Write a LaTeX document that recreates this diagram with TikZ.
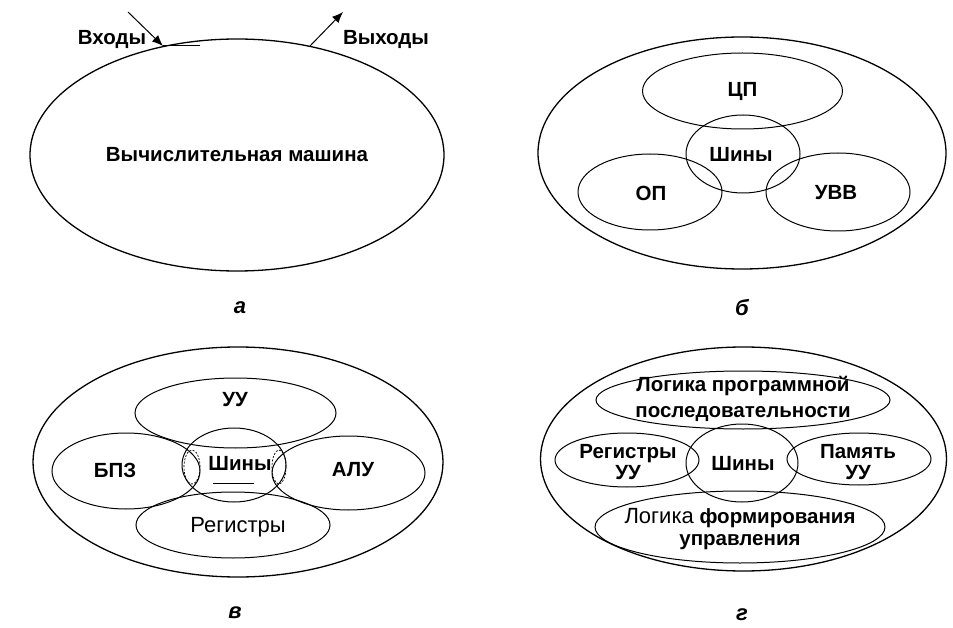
\documentclass[tikz,border=0pt]{standalone}
\usepackage{fontspec}
\setmainfont{Liberation Sans}
\usetikzlibrary{shapes.geometric,arrows.meta}

\tikzset{
  oval/.style={draw, ellipse, inner sep=0pt, line width=1pt},
  bigoval/.style={oval, line width=1.3pt},
  lens/.style={draw, ellipse, inner sep=0pt, line width=0.7pt, dash pattern=on 2pt off 1.5pt},
  lbl/.style={font=\fontsize{20.5}{26}\selectfont\bfseries, align=center, inner sep=0pt},
  lbltight/.style={lbl, font=\fontsize{20.5}{21}\selectfont\bfseries},
  lblreg/.style={font=\fontsize{22}{26}\selectfont, inner sep=0pt},
  panel/.style={font=\fontsize{22}{26}\selectfont\bfseries\itshape, inner sep=0pt},
  io/.style={line width=1pt, -{Latex[length=11pt,width=9pt]}}
}

\begin{document}
\begin{tikzpicture}[x=1pt, y=-1pt]
    \useasboundingbox (0,0) rectangle (953,628);

    % panel a: the machine as a whole
    \node[bigoval, minimum width=414, minimum height=232] (machine) at (237,155) {};
    \node[lbl] (machine-t) at (machine) {Вычислительная машина};
    \node[lbl] (inputs) at (112,39) {Входы};
    \node[lbl] (outputs) at (386,39) {Выходы};
    \coordinate (in-tail) at (128,12);
    \coordinate (in-head) at (163,46);
    \coordinate (in-tick) at (200,46);
    \coordinate (out-tail) at (310,46);
    \coordinate (out-head) at (343,12);
    \draw[io] (in-tail) -- (in-head);
    \draw[line width=1pt] (in-head) -- (in-tick);
    \draw[io] (out-tail) -- (out-head);
    \node[panel] (cap-a) at (240,308) {а};

    % panel b: cpu, memory, i/o around the buses
    \node[bigoval, minimum width=408, minimum height=232] (comp) at (742,153) {};
    \node[oval, minimum width=200, minimum height=76] (cpu) at (742.5,91) {};
    \node[oval, minimum width=114, minimum height=78] (bus) at (743,154) {};
    \node[oval, minimum width=144, minimum height=76] (ram) at (650,192) {};
    \node[oval, minimum width=144, minimum height=78] (iodev) at (838,192) {};
    \node[lbl] (cpu-t) at (cpu) {ЦП};
    \node[lbl] (bus-t) at (741,154) {Шины};
    \node[lbl] (ram-t) at (651,193) {ОП};
    \node[lbl] (iodev-t) at (836,193) {УВВ};
    \node[panel] (cap-b) at (742,308) {б};

    % panel c: inside the cpu
    \node[bigoval, minimum width=410, minimum height=230] (proc) at (238,462) {};
    \node[oval, minimum width=201, minimum height=70] (cu) at (235.5,413) {};
    \node[oval, minimum width=148, minimum height=76] (bpz) at (126,471) {};
    \node[oval, minimum width=153, minimum height=74] (alu) at (348.5,473) {};
    \node[oval, minimum width=194, minimum height=66] (regs) at (233,525) {};
    \node[oval, minimum width=104, minimum height=74] (bus2) at (234,465) {};
    \node[lens, minimum width=16, minimum height=34] (lens-l) at (192,467) {};
    \node[lens, minimum width=14, minimum height=34] (lens-r) at (279,467) {};
    \node[lbl] (cu-t) at (235,400) {УУ};
    \node[lbl] (bpz-t) at (115,470) {БПЗ};
    \node[lbl] (alu-t) at (353,470) {АЛУ};
    \node[lbl] (bus2-t) at (240,463) {Шины};
    \node[lblreg] (regs-t) at (238,527) {Регистры};
    \coordinate (ul-l) at (213,483);
    \coordinate (ul-r) at (254,483);
    \draw[line width=1pt] (ul-l) -- (ul-r);
    \node[panel] (cap-c) at (235,613) {в};

    % panel d: inside the control unit
    \node[bigoval, minimum width=406, minimum height=224] (ctrl) at (743.5,459) {};
    \node[oval, minimum width=294, minimum height=58] (logic) at (743,400) {};
    \node[oval, minimum width=144, minimum height=54] (cureg) at (627,460) {};
    \node[oval, minimum width=144, minimum height=52] (cumem) at (859,459) {};
    \node[oval, minimum width=290, minimum height=72] (form) at (740,527) {};
    \node[oval, minimum width=112, minimum height=78] (bus3) at (742,463) {};
    \node[lbl] (logic-t) at (743,399) {Логика программной\\последовательности};
    \node[lbltight] (cureg-t) at (628,462) {Регистры\\УУ};
    \node[lbltight] (cumem-t) at (858,462) {Память\\УУ};
    \node[lbl] (bus3-t) at (743,463) {Шины};
    \node[lbl, font=\fontsize{20.5}{22}\selectfont\bfseries] (form-t) at (740,529)
        {{\mdseries\fontsize{22}{22}\selectfont Логика} формирования\\управления};
    \node[panel] (cap-d) at (742,615) {г};

\end{tikzpicture}
\end{document}
